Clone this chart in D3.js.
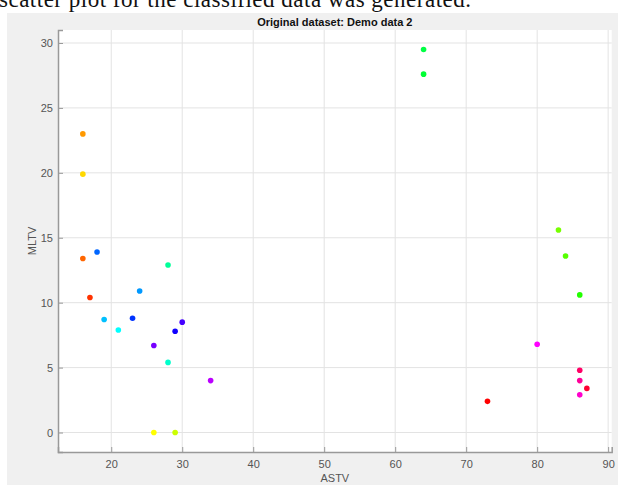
<!DOCTYPE html>
<html>
<head>
<meta charset="utf-8">
<script src="https://cdn.jsdelivr.net/npm/d3@7"></script>
<style>
  html, body { margin: 0; padding: 0; background: #fff; }
  svg { display: block; }
</style>
</head>
<body>
<svg id="chart" width="618" height="485"></svg>
<script>
// Original dataset: Demo data 2 — scatter of ASTV vs MLTV

const astv = [16, 16, 16, 18, 17, 19, 21, 23, 24, 26, 28, 28, 29, 30, 34, 26, 29,
  64, 64, 83, 84, 86, 80, 73, 86, 86, 87, 86];
const mltv = [23, 19.9, 13.4, 13.9, 10.4, 8.7, 7.9, 8.8, 10.9, 6.7, 12.9, 5.4, 7.8, 8.5, 4.0, 0, 0,
  29.5, 27.6, 15.6, 13.6, 10.6, 6.8, 2.4, 4.8, 4.0, 3.4, 2.9];
const pointColors = ["#ff9900", "#ffd800", "#ff6600", "#0066ff", "#ff3300", "#00c0ff", "#00ffff",
  "#0033ff", "#0099ff", "#7700ff", "#00ff99", "#00ffcc", "#1100ff", "#4400ff", "#bb00ff",
  "#ffff00", "#ccff00", "#00ff44", "#00ff33", "#77ff00", "#55ff00", "#22ff00", "#ff00ff",
  "#ff0000", "#ff0066", "#ff0099", "#ff0033", "#ff00cc"];
const xTicks = [20, 30, 40, 50, 60, 70, 80, 90];
const yTicks = [0, 5, 10, 15, 20, 25, 30];

(function () {
  const svg = d3.select("#chart");

  // caption text cut off by the crop (as in the source screenshot)
  svg.append("text")
    .attr("x", -1).attr("y", 7)
    .attr("font-family", "Liberation Serif, Times New Roman, serif")
    .attr("font-size", 23)
    .attr("textLength", 472)
    .attr("fill", "#111")
    .text("scatter plot for the classified data was generated.");

  // figure background
  svg.append("rect")
    .attr("x", 7).attr("y", 13)
    .attr("width", 611).attr("height", 472)
    .attr("fill", "#f0f0f0");

  const pl = 58, pr = 611.7, pt = 30, pb = 452;
  const x = d3.scaleLinear().domain([12.5, 90.5]).range([pl, pr]);
  const y = d3.scaleLinear().domain([-1.5, 31]).range([pb, pt]);

  svg.append("rect")
    .attr("x", pl).attr("y", pt)
    .attr("width", pr - pl).attr("height", pb - pt)
    .attr("fill", "#fff");

  // grid
  const grid = svg.append("g").attr("stroke", "#e3e3e3").attr("stroke-width", 1);
  grid.selectAll(".gx").data(xTicks).enter().append("line")
    .attr("x1", d => x(d)).attr("x2", d => x(d))
    .attr("y1", pt).attr("y2", pb);
  grid.selectAll(".gy").data(yTicks).enter().append("line")
    .attr("x1", pl).attr("x2", pr)
    .attr("y1", d => y(d)).attr("y2", d => y(d));

  // axes (ticks inside)
  const xAxis = svg.append("g")
    .attr("transform", `translate(0,${pb})`)
    .call(d3.axisTop(x).tickValues(xTicks).tickSize(5).tickFormat(d3.format("d")));
  const yAxis = svg.append("g")
    .attr("transform", `translate(${pl},0)`)
    .call(d3.axisRight(y).tickValues(yTicks).tickSize(5).tickFormat(d3.format("d")));

  [xAxis, yAxis].forEach(a => {
    a.select(".domain").attr("stroke", "#999").attr("stroke-width", 1.5);
    a.selectAll(".tick line").attr("stroke", "#999").attr("stroke-width", 1);
    a.selectAll(".tick text")
      .attr("font-family", "Liberation Sans, Arial, sans-serif")
      .attr("font-size", 11)
      .attr("fill", "#555");
  });
  xAxis.selectAll(".tick text").attr("y", 8).attr("dy", "0.71em");
  yAxis.selectAll(".tick text").attr("x", -5).attr("text-anchor", "end");

  // points
  svg.append("g").selectAll("circle")
    .data(astv.map((v, i) => ({ x: v, y: mltv[i], c: pointColors[i] })))
    .enter().append("circle")
    .attr("cx", d => x(d.x))
    .attr("cy", d => y(d.y))
    .attr("r", 2.8)
    .attr("fill", d => d.c);

  // labels
  svg.append("text")
    .attr("x", (pl + pr) / 2).attr("y", 26)
    .attr("text-anchor", "middle")
    .attr("font-family", "Liberation Sans, Arial, sans-serif")
    .attr("font-size", 11).attr("font-weight", "bold")
    .attr("fill", "#111")
    .text("Original dataset: Demo data 2");

  svg.append("text")
    .attr("x", (pl + pr) / 2).attr("y", 482)
    .attr("text-anchor", "middle")
    .attr("font-family", "Liberation Sans, Arial, sans-serif")
    .attr("font-size", 11)
    .attr("fill", "#555")
    .text("ASTV");

  svg.append("text")
    .attr("transform", `translate(36,241) rotate(-90)`)
    .attr("text-anchor", "middle")
    .attr("font-family", "Liberation Sans, Arial, sans-serif")
    .attr("font-size", 11)
    .attr("fill", "#555")
    .text("MLTV");
})();
</script>
</body>
</html>
